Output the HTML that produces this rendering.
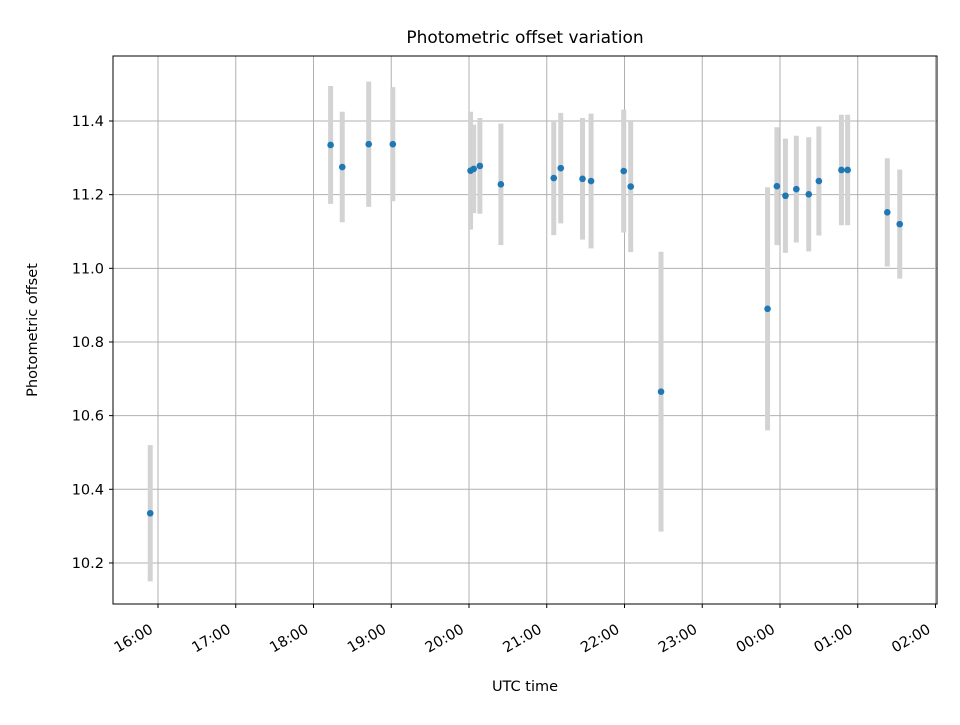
<!DOCTYPE html>
<html><head><meta charset="utf-8"><style>
body{margin:0;background:#fff;font-family:"Liberation Sans","DejaVu Sans",sans-serif}
svg text{font-family:"DejaVu Sans","Liberation Sans",sans-serif;fill:#000}
</style></head><body>
<svg id="chart" width="960" height="720" xmlns="http://www.w3.org/2000/svg">
<rect width="960" height="720" fill="#fff"/>
<text x="525" y="43" font-size="17" text-anchor="middle">Photometric offset variation</text>
<text x="525" y="691" font-size="14.5" text-anchor="middle">UTC time</text>
<text transform="translate(37,330) rotate(-90)" font-size="14.5" text-anchor="middle">Photometric offset</text>
<g id="grid"></g>
<g id="marks"></g>
<g id="axes"></g>
<rect x="113" y="56" width="824" height="548" fill="none" stroke="#000" stroke-width="1"/>
</svg>
<script>
// hours after 16:00 UTC
const times=[-0.10,2.22,2.37,2.71,3.02,4.02,4.06,4.14,4.41,5.09,5.18,5.46,5.57,5.99,6.08,6.47,7.84,7.96,8.07,8.21,8.37,8.50,8.79,8.87,9.38,9.54];
const values=[10.335,11.335,11.275,11.337,11.337,11.265,11.27,11.278,11.228,11.245,11.272,11.243,11.237,11.264,11.222,10.665,10.89,11.223,11.197,11.215,11.201,11.237,11.267,11.267,11.152,11.12];
const errors=[0.185,0.16,0.15,0.17,0.155,0.16,0.12,0.13,0.165,0.155,0.15,0.165,0.183,0.167,0.178,0.38,0.33,0.16,0.155,0.145,0.155,0.148,0.15,0.15,0.147,0.148];
const xTickLabels=["16:00","17:00","18:00","19:00","20:00","21:00","22:00","23:00","00:00","01:00","02:00"];
const yTicks=[10.2,10.4,10.6,10.8,11.0,11.2,11.4];
const NS="http://www.w3.org/2000/svg";
const X=h=>158+h*77.75;
const Y=v=>121+(11.4-v)*368.3;
function mk(t,a,p){const e=document.createElementNS(NS,t);for(const k in a)e.setAttribute(k,a[k]);p.appendChild(e);return e;}
const grid=document.getElementById('grid'),axes=document.getElementById('axes'),marks=document.getElementById('marks');
xTickLabels.forEach((l,i)=>{const x=X(i);
 const g=mk('line',{x1:x,x2:x,y1:56,y2:604,stroke:'#b0b0b0','stroke-width':1},grid);
 
 
 const t=mk('line',{x1:x,x2:x,y1:604,y2:608,stroke:'#000'},axes);
 
 
 const tx=mk('text',{x:0,y:0,'font-size':14.5,'text-anchor':'end',transform:`translate(${x-4},${632}) rotate(-30)`},axes);
 tx.textContent=l;
 
 
});
yTicks.forEach(v=>{const y=Y(v);
 const g=mk('line',{x1:113,x2:937,y1:y,y2:y,stroke:'#b0b0b0','stroke-width':1},grid);
 
 
 const t=mk('line',{x1:109,x2:113,y1:y,y2:y,stroke:'#000'},axes);
 
 
 const tx=mk('text',{x:104,y:y+5,'font-size':14.5,'text-anchor':'end'},axes);
 tx.textContent=v.toFixed(1);
 
 
});
times.forEach((h,i)=>{const x=X(h);
 const e=mk('line',{x1:x,x2:x,y1:Y(values[i]+errors[i]),y2:Y(values[i]-errors[i]),stroke:'#d3d3d3','stroke-width':5},marks);
 
 
});
times.forEach((h,i)=>{
 const c=mk('circle',{cx:X(h),cy:Y(values[i]),r:3.3,fill:'#1f77b4'},marks);
 
 
});
</script>
</body></html>
